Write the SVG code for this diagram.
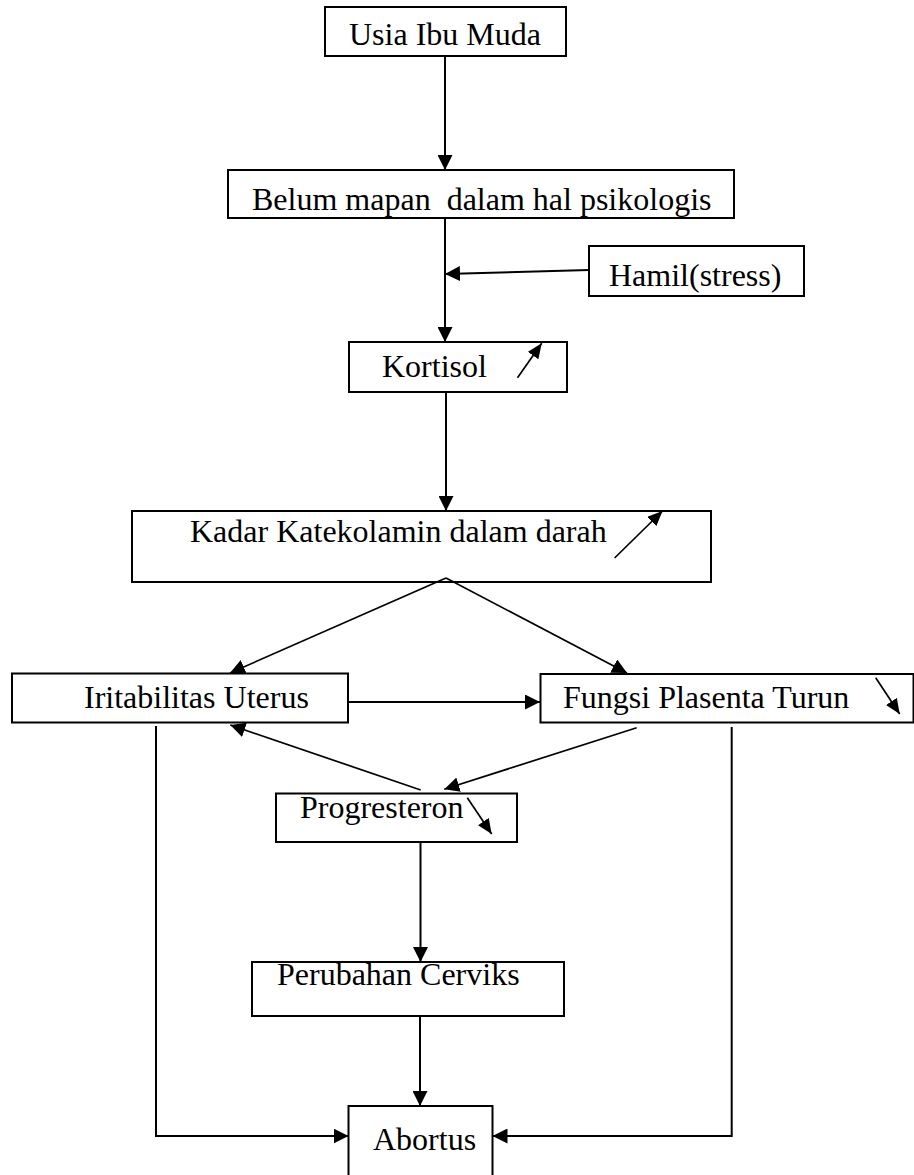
<svg xmlns="http://www.w3.org/2000/svg" width="914" height="1175" viewBox="0 0 914 1175">
<style>
.box{fill:#fff;stroke:#000;stroke-width:2}
.t{font-family:"Liberation Serif","Times New Roman",serif;font-size:32px;fill:#000}
.c{fill:none;stroke:#000;stroke-width:2}
.c1{fill:none;stroke:#000;stroke-width:1.7}
.s{fill:none;stroke:#000;stroke-width:1.7}
</style>
<defs>
<marker id="ah" viewBox="0 0 15 15" refX="15" refY="7.5" markerWidth="15" markerHeight="15" markerUnits="userSpaceOnUse" orient="auto"><path d="M0,0 L15,7.5 L0,15 z" fill="#000"/></marker>
<marker id="sh" viewBox="0 0 15 13" refX="15" refY="6.5" markerWidth="15" markerHeight="13" markerUnits="userSpaceOnUse" orient="auto"><path d="M0,0 L15,6.5 L0,13 z" fill="#000"/></marker>
</defs>
<rect width="914" height="1175" fill="#fff"/>
<g id="n-usia"><rect class="box" x="325" y="7" width="241" height="49"/><text class="t" x="349" y="45">Usia Ibu Muda</text></g>
<g id="n-belum"><rect class="box" x="228" y="170" width="506" height="48"/><text class="t" x="252" y="210" xml:space="preserve">Belum mapan  dalam hal psikologis</text></g>
<g id="n-hamil"><rect class="box" x="589" y="246" width="215" height="50"/><text class="t" x="609" y="286">Hamil(stress)</text></g>
<g id="n-kortisol"><rect class="box" x="349" y="342" width="218" height="50"/><text class="t" x="382" y="377">Kortisol</text><line class="s" x1="517.5" y1="377.7" x2="541.7" y2="343.3" marker-end="url(#sh)"/></g>
<g id="n-kadar"><rect class="box" x="132" y="511" width="579" height="71"/><text class="t" x="190" y="542">Kadar Katekolamin dalam darah</text><line class="s" x1="614.6" y1="558" x2="662.5" y2="511" marker-end="url(#sh)"/></g>
<g id="n-iritabilitas"><rect class="box" x="12" y="673.5" width="336" height="49"/><text class="t" x="84" y="708">Iritabilitas Uterus</text></g>
<g id="n-fungsi"><rect class="box" x="540.5" y="674" width="373" height="48.5"/><text class="t" x="563" y="708">Fungsi Plasenta Turun</text><line class="s" x1="875.7" y1="677.7" x2="899.7" y2="714" marker-end="url(#sh)"/></g>
<g id="n-progesteron"><rect class="box" x="276" y="793.5" width="241" height="48.5"/><text class="t" x="300" y="818">Progresteron</text><line class="s" x1="467.3" y1="797.7" x2="491.7" y2="834" marker-end="url(#sh)"/></g>
<g id="n-perubahan"><rect class="box" x="252" y="962" width="312" height="54"/><text class="t" x="277" y="985">Perubahan Cerviks</text></g>
<g id="n-abortus"><rect class="box" x="348.5" y="1106" width="144" height="75"/><text class="t" x="373" y="1150">Abortus</text></g>
<g id="connectors">
<line class="c" x1="445" y1="56" x2="445" y2="170" marker-end="url(#ah)"/>
<line class="c" x1="445" y1="218" x2="445" y2="342" marker-end="url(#ah)"/>
<line class="c" x1="589" y1="270" x2="445" y2="274" marker-end="url(#ah)"/>
<line class="c" x1="446" y1="392" x2="446" y2="511" marker-end="url(#ah)"/>
<line class="c1" x1="446" y1="578" x2="230" y2="673" marker-end="url(#ah)"/>
<line class="c1" x1="446" y1="578" x2="627" y2="673" marker-end="url(#ah)"/>
<line class="c" x1="348" y1="702" x2="540" y2="702" marker-end="url(#ah)"/>
<line class="c1" x1="636.7" y1="727.7" x2="444.3" y2="789.3" marker-end="url(#ah)"/>
<line class="c1" x1="420.7" y1="790" x2="230.3" y2="725" marker-end="url(#ah)"/>
<line class="c" x1="420.5" y1="842" x2="420.5" y2="962" marker-end="url(#ah)"/>
<line class="c" x1="420" y1="1016" x2="420" y2="1106" marker-end="url(#ah)"/>
<polyline class="c" points="156,726 156,1136 348.5,1136" marker-end="url(#ah)"/>
<polyline class="c" points="731.7,727 731.7,1136 492.5,1136" marker-end="url(#ah)"/>
</g>
</svg>
